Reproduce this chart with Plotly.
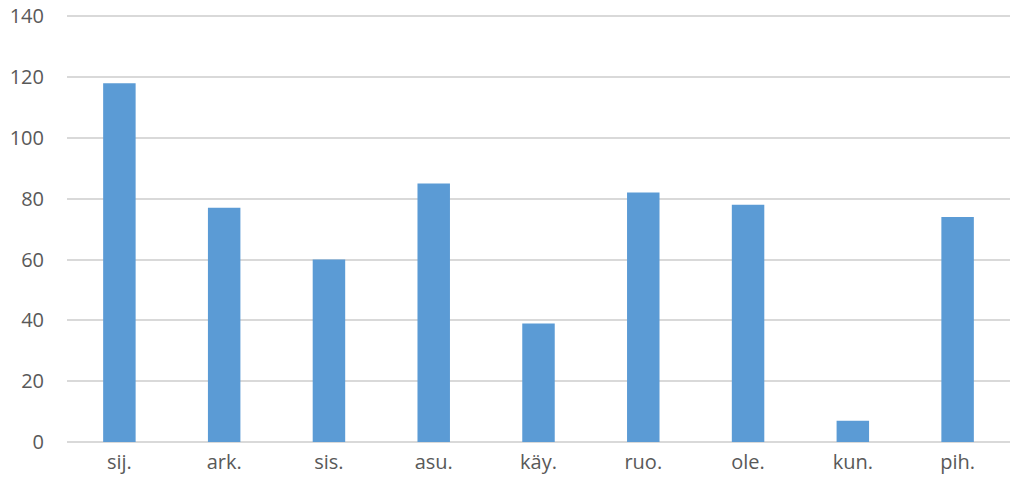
import plotly.graph_objects as go

categories = ["sij.", "ark.", "sis.", "asu.", "käy.", "ruo.", "ole.", "kun.", "pih."]
values = [118, 77, 60, 85, 39, 82, 78, 7, 74]
y_ticks = [0, 20, 40, 60, 80, 100, 120, 140]

fig = go.Figure(go.Bar(x=categories, y=values, marker=dict(color="#5B9BD5", line=dict(width=0)),
                       hoverinfo="skip"))

fig.update_layout(
    width=1013, height=490,
    margin=dict(l=67, r=3, t=15, b=48, autoexpand=False),
    paper_bgcolor="white", plot_bgcolor="white",
    bargap=0.69,
    showlegend=False,
    font=dict(family="Open Sans, Liberation Sans, sans-serif", size=20, color="#595959"),
)
fig.update_xaxes(showgrid=False, showline=False, ticks="", ticklabelstandoff=6, automargin=False,
                 tickfont=dict(size=20))
fig.update_yaxes(range=[0, 140.4], tickvals=y_ticks, showgrid=True, gridcolor="#D9D9D9", gridwidth=1.5,
                 zeroline=True, zerolinecolor="#D9D9D9", zerolinewidth=1.5, showline=False, ticks="",
                 ticklabelstandoff=22, automargin=False, tickfont=dict(size=20))

fig.write_html("out.html", config={"displayModeBar": False},
               post_script="document.body.style.margin='0px';")
